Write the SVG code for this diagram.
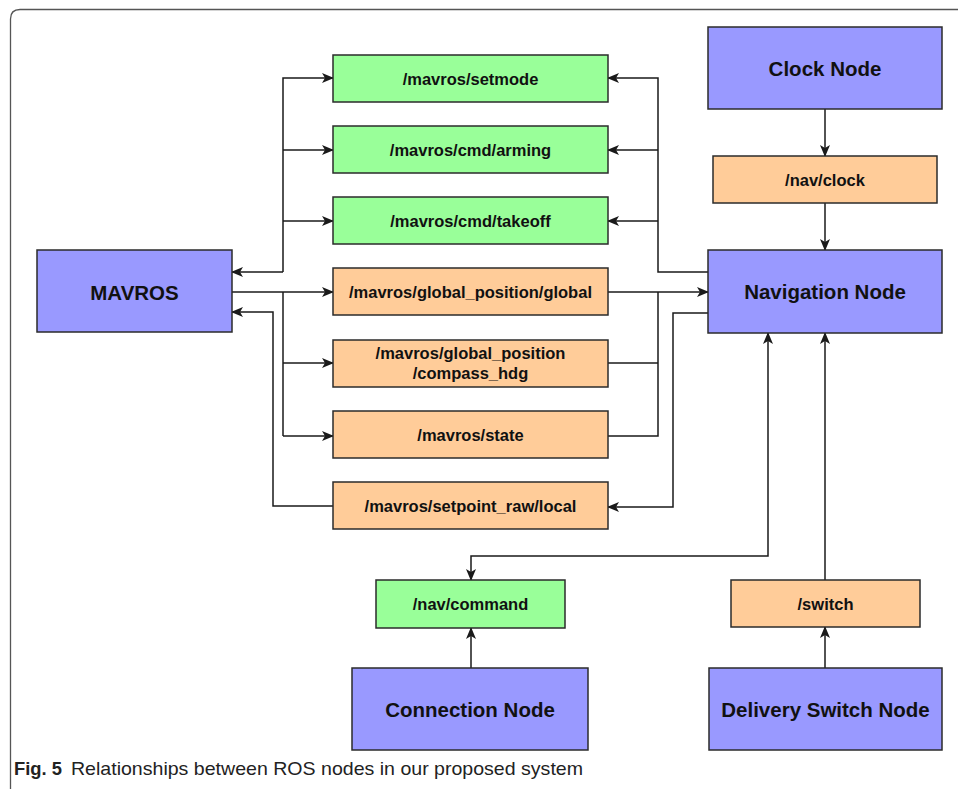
<svg xmlns="http://www.w3.org/2000/svg" width="958" height="789" viewBox="0 0 958 789">
  <style>
    .node { fill: #9999ff; stroke: #2b2b2b; stroke-width: 1.5; }
    .pub { fill: #99ff99; stroke: #2b2b2b; stroke-width: 1.5; }
    .topic { fill: #ffcc99; stroke: #2b2b2b; stroke-width: 1.5; }
    .big { font-family: "Liberation Sans", Arial, sans-serif; font-weight: bold; font-size: 20.5px; fill: #111; text-anchor: middle; dominant-baseline: central; }
    .small { font-family: "Liberation Sans", Arial, sans-serif; font-weight: bold; font-size: 16.5px; fill: #111; text-anchor: middle; dominant-baseline: central; }
    .wire { fill: none; stroke: #1a1a1a; stroke-width: 1.5; }
    .arr { marker-end: url(#head); }
    .cap { font-family: "Liberation Sans", Arial, sans-serif; font-size: 19px; fill: #222; }
  </style>
  <defs>
    <marker id="head" viewBox="0 0 12 10" refX="11" refY="5" markerWidth="12" markerHeight="10" markerUnits="userSpaceOnUse" orient="auto">
      <path d="M0,0 L12,5 L0,10 L3,5 Z" fill="#1a1a1a"/>
    </marker>
    <marker id="tail" viewBox="0 0 12 10" refX="1" refY="5" markerWidth="12" markerHeight="10" markerUnits="userSpaceOnUse" orient="auto">
      <path d="M12,0 L0,5 L12,10 L9,5 Z" fill="#1a1a1a"/>
    </marker>
  </defs>

  <rect width="958" height="789" fill="#ffffff"/>
  <!-- figure frame -->
  <path d="M10.5,789 V19 Q10.5,9.5 20,9.5 H958" fill="none" stroke="#555" stroke-width="1.3"/>

  <g id="connectors">
    <!-- MAVROS publishes to command topics -->
    <path class="wire arr" d="M283,272 V78 H333"/>
    <path class="wire arr" d="M283,150 H333"/>
    <path class="wire arr" d="M283,221 H333"/>
    <path class="wire arr" d="M283,272 H232"/>
    <!-- MAVROS publishes state topics -->
    <path class="wire arr" d="M232,292 H333"/>
    <path class="wire" d="M283,292 V436"/>
    <path class="wire arr" d="M283,363 H333"/>
    <path class="wire arr" d="M283,436 H333"/>
    <!-- setpoint back to MAVROS -->
    <path class="wire arr" d="M333,506 H273 V312 H232"/>
    <!-- navigation node to command topics -->
    <path class="wire arr" d="M708,272 H658 V78 H608"/>
    <path class="wire arr" d="M658,150 H608"/>
    <path class="wire arr" d="M658,221 H608"/>
    <!-- state topics into navigation node -->
    <path class="wire arr" d="M608,292 H708"/>
    <path class="wire" d="M658,292 V436 H608"/>
    <path class="wire" d="M608,363 H658"/>
    <!-- navigation node to setpoint -->
    <path class="wire arr" d="M708,313 H673 V507 H608"/>
    <!-- clock chain -->
    <path class="wire arr" d="M825,109 V156"/>
    <path class="wire arr" d="M825,203 V250"/>
    <!-- nav/command link, arrow at both ends -->
    <path class="wire arr" d="M471,580 V556 H768 V333" marker-start="url(#tail)"/>
    <path class="wire arr" d="M471,668 V628"/>
    <!-- switch chain -->
    <path class="wire arr" d="M825,668 V627"/>
    <path class="wire arr" d="M825,580 V333"/>
  </g>

  <g id="mavros">
    <rect class="node" x="37" y="250" width="195" height="82"/>
    <text class="big" x="134.5" y="292">MAVROS</text>
  </g>
  <g id="setmode">
    <rect class="pub" x="333" y="55" width="275" height="47"/>
    <text class="small" x="470.5" y="78.5">/mavros/setmode</text>
  </g>
  <g id="arming">
    <rect class="pub" x="333" y="126" width="275" height="47"/>
    <text class="small" x="470.5" y="149.5">/mavros/cmd/arming</text>
  </g>
  <g id="takeoff">
    <rect class="pub" x="333" y="197" width="275" height="47"/>
    <text class="small" x="470.5" y="220.5">/mavros/cmd/takeoff</text>
  </g>
  <g id="global">
    <rect class="topic" x="333" y="268" width="275" height="47"/>
    <text class="small" x="470.5" y="291.5">/mavros/global_position/global</text>
  </g>
  <g id="compass">
    <rect class="topic" x="333" y="340" width="275" height="47"/>
    <text class="small" x="470.5" y="352.5">/mavros/global_position</text>
    <text class="small" x="470.5" y="372.5">/compass_hdg</text>
  </g>
  <g id="state">
    <rect class="topic" x="333" y="411" width="275" height="47"/>
    <text class="small" x="470.5" y="434.5">/mavros/state</text>
  </g>
  <g id="setpoint">
    <rect class="topic" x="333" y="482" width="275" height="47"/>
    <text class="small" x="470.5" y="505.5">/mavros/setpoint_raw/local</text>
  </g>
  <g id="clock-node">
    <rect class="node" x="708" y="27" width="234" height="82"/>
    <text class="big" x="825" y="68">Clock Node</text>
  </g>
  <g id="nav-clock">
    <rect class="topic" x="713" y="156" width="224" height="47"/>
    <text class="small" x="825" y="179.5">/nav/clock</text>
  </g>
  <g id="navigation-node">
    <rect class="node" x="708" y="250" width="234" height="83"/>
    <text class="big" x="825" y="291.5">Navigation Node</text>
  </g>
  <g id="nav-command">
    <rect class="pub" x="376" y="580" width="189" height="48"/>
    <text class="small" x="470.5" y="604">/nav/command</text>
  </g>
  <g id="switch">
    <rect class="topic" x="731" y="580" width="189" height="47"/>
    <text class="small" x="825.5" y="603.5">/switch</text>
  </g>
  <g id="connection-node">
    <rect class="node" x="352" y="668" width="236" height="82"/>
    <text class="big" x="470" y="709">Connection Node</text>
  </g>
  <g id="delivery-node">
    <rect class="node" x="709" y="668" width="233" height="82"/>
    <text class="big" x="825.5" y="709">Delivery Switch Node</text>
  </g>

  <text class="cap" x="14" y="775"><tspan font-weight="bold" textLength="48" lengthAdjust="spacingAndGlyphs">Fig. 5</tspan><tspan x="71" textLength="512" lengthAdjust="spacingAndGlyphs">Relationships between ROS nodes in our proposed system</tspan></text>
</svg>
